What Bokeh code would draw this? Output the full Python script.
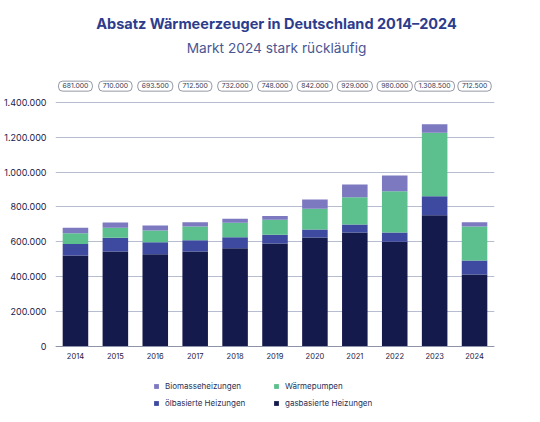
from bokeh.plotting import figure
from bokeh.models import (FactorRange, Range1d, FixedTicker, Label, Legend, LegendItem,
                          ColumnDataSource)
from bokeh.core.properties import value
from bokeh.embed import file_html
from bokeh.resources import INLINE

years = ["2014", "2015", "2016", "2017", "2018", "2019", "2020", "2021", "2022", "2023", "2024"]
gas = [521000, 544000, 529000, 544000, 563000, 590000, 625000, 653000, 600000, 752000, 413000]
oil = [67000, 79000, 69000, 65000, 63000, 50000, 45000, 46000, 53000, 109000, 80000]
heatpump = [61000, 58000, 67000, 79000, 83000, 86000, 120000, 156000, 236000, 364000, 195000]
biomass = [32000, 29000, 28500, 24500, 23000, 22000, 52000, 74000, 91000, 49000, 24500]
total_labels = ["681.000", "710.000", "693.500", "712.500", "732.000", "748.000",
                "842.000", "929.000", "980.000", "1.308.500", "712.500"]
y_ticks = [0, 200000, 400000, 600000, 800000, 1000000, 1200000, 1400000]
y_tick_labels = ["0", "200.000", "400.000", "600.000", "800.000", "1.000.000",
                 "1.200.000", "1.400.000"]
series = ["gas", "oil", "heatpump", "biomass"]
colors = ["#151a4c", "#3d4a9f", "#5cbf8e", "#7d79c1"]

FONT = "Inter"
TEXT = "#1d2147"

W, H = 540, 422
PX_PER_UNIT = 174.5 / 1e6      # vertical scale (px per unit)
ZERO_PX = 346                  # page y of value 0

src = ColumnDataSource(dict(years=years, gas=gas, oil=oil, heatpump=heatpump, biomass=biomass))

p = figure(x_range=FactorRange(*years),
           y_range=Range1d(-(H - ZERO_PX) / PX_PER_UNIT, ZERO_PX / PX_PER_UNIT),
           width=W, height=H, output_backend="svg", toolbar_location=None,
           min_border_left=54, min_border_right=46, min_border_top=0, min_border_bottom=0)
p.outline_line_color = None

rs = p.vbar_stack(series, x="years", width=0.64, color=colors, line_color=None, source=src)

# grid / axes
p.xgrid.grid_line_color = None
p.ygrid.grid_line_color = "#b7bdd1"
p.ygrid.grid_line_width = 1
p.ygrid.ticker = FixedTicker(ticks=y_ticks)

p.yaxis.ticker = FixedTicker(ticks=y_ticks)
p.yaxis.major_label_overrides = {t: l for t, l in zip(y_ticks, y_tick_labels)}
p.yaxis.axis_line_color = None
p.yaxis.major_tick_line_color = None
p.yaxis.minor_tick_line_color = None
p.yaxis.major_label_text_font = FONT
p.yaxis.major_label_text_font_size = "9px"
p.yaxis.major_label_text_color = TEXT
p.yaxis.major_label_standoff = 3

p.xaxis.fixed_location = 0
p.xaxis.axis_line_color = "#8d93a8"
p.xaxis.axis_line_width = 1
p.xaxis.major_tick_line_color = None
p.xaxis.minor_tick_line_color = None
p.xaxis.major_label_text_font = FONT
p.xaxis.major_label_text_font_size = "7.5px"
p.xaxis.major_label_text_color = TEXT
p.xaxis.major_label_standoff = 0

# total pills above bars
pill_y = [1492000] * len(years)
p.text(x=years, y=pill_y, text=total_labels, text_font=value(FONT), text_font_size="6.8px",
       text_color="#333a55", text_align="center", text_baseline="middle",
       border_line_color="#7a7e8e", border_line_width=0.8, border_radius=4,
       padding=(4, 4, 2, 3), background_fill_color="white")

# titles
p.add_layout(Label(x=221, y=H - 23, x_units="screen", y_units="screen",
                   text="Absatz Wärmeerzeuger in Deutschland 2014–2024",
                   text_font=FONT, text_font_size="14.5px", text_font_style="bold",
                   text_color="#2d3c8c", text_align="center", text_baseline="middle"))
p.add_layout(Label(x=221, y=H - 47, x_units="screen", y_units="screen",
                   text="Markt 2024 stark rückläufig",
                   text_font=FONT, text_font_size="13.7px",
                   text_color="#4a5793", text_align="center", text_baseline="middle"))

# legend (filled column by column: left column Bio / Öl, right column WP / Gas)
r_gas, r_oil, r_wp, r_bio = rs
items = [LegendItem(label="Biomasseheizungen", renderers=[r_bio]),
         LegendItem(label="ölbasierte Heizungen", renderers=[r_oil]),
         LegendItem(label="Wärmepumpen", renderers=[r_wp]),
         LegendItem(label="gasbasierte Heizungen", renderers=[r_gas])]
legend = Legend(items=items, location=(98, 11), ncols=2,
                glyph_width=6, glyph_height=6, label_standoff=6,
                label_width=108, label_height=17, spacing=0, padding=0, margin=0,
                label_text_font=FONT, label_text_font_size="8px", label_text_color="#2a2f55",
                border_line_color=None, background_fill_alpha=0)
p.add_layout(legend, "center")

open("out.html", "w").write(file_html(p, INLINE))
